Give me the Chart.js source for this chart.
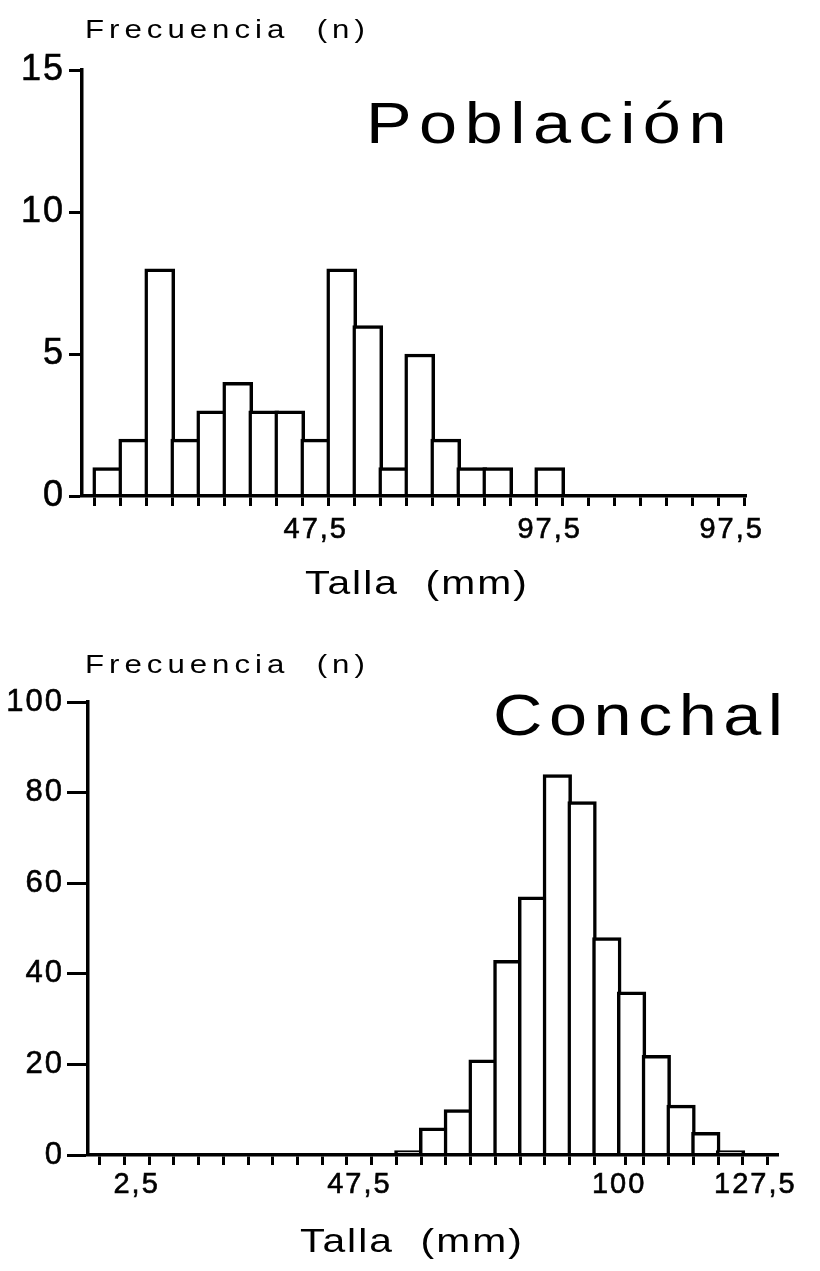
<!DOCTYPE html>
<html>
<head>
<meta charset="utf-8">
<script src="https://cdn.jsdelivr.net/npm/chart.js@4/dist/chart.umd.min.js"></script>
<style>
  html, body { margin: 0; padding: 0; background: #fff; }
  canvas { display: block; }
</style>
</head>
<body>
<canvas id="poblacion" width="820" height="620"></canvas>
<canvas id="conchal" width="820" height="651"></canvas>
<script>
// Población: size class centres (mm) and counts
var poblacionTalla = [7.5, 12.5, 17.5, 22.5, 27.5, 32.5, 37.5, 42.5, 47.5, 52.5, 57.5, 62.5, 67.5, 72.5, 77.5, 82.5, 87.5, 92.5];
var poblacionFrec = [1, 2, 8, 2, 3, 4, 3, 3, 2, 8, 6, 1, 5, 2, 1, 1, 0, 1];
var poblacionTicks = [7.5, 12.5, 17.5, 22.5, 27.5, 32.5, 37.5, 42.5, 47.5, 52.5, 57.5, 62.5, 67.5, 72.5, 77.5, 82.5, 87.5, 92.5, 97.5, 102.5, 107.5, 112.5, 117.5, 122.5, 127.5];
var poblacionTickLabels = ['', '', '', '', '', '', '', '', '47,5', '', '', '', '', '', '', '', '', '97,5', '', '', '', '', '', '', '97,5'];

// Conchal
var conchalTalla = [57.5, 62.5, 67.5, 72.5, 77.5, 82.5, 87.5, 92.5, 97.5, 102.5, 107.5, 112.5, 117.5, 122.5];
var conchalFrec = [1, 6, 10, 21, 43, 57, 84, 78, 48, 36, 22, 11, 5, 1];
var conchalTicks = [-2.5, 2.5, 7.5, 12.5, 17.5, 22.5, 27.5, 32.5, 37.5, 42.5, 47.5, 52.5, 57.5, 62.5, 67.5, 72.5, 77.5, 82.5, 87.5, 92.5, 97.5, 100, 102.5, 107.5, 112.5, 117.5, 122.5, 127.5];
var conchalTickLabels = ['', '2,5', '', '', '', '', '', '', '', '', '47,5', '', '', '', '', '', '', '', '', '', '', '100', '', '', '', '', '', '127,5'];

var FONT = '"Liberation Sans", Arial, Helvetica, sans-serif';

// the original type is wide and spaced out: stretch it a little and space the letters
var spacedText = {
    id: 'spacedText',
    beforeDraw: function (chart, args, opts) {
        chart.ctx.letterSpacing = opts.tickSpacing + 'px';
    },
    afterDraw: function (chart, args, opts) {
        var ctx = chart.ctx;
        var area = chart.chartArea;
        ctx.letterSpacing = '0px';
        opts.items.forEach(function (t) {
            var y = (t.from === 'bottom' ? area.bottom : area.top) + t.dy;
            ctx.save();
            ctx.translate(area.left + t.dx, y);
            ctx.scale(t.stretch, 1);
            ctx.font = t.size + 'px ' + FONT;
            ctx.letterSpacing = (t.spacing / t.stretch) + 'px';
            ctx.fillStyle = '#000';
            ctx.textAlign = 'left';
            ctx.textBaseline = 'alphabetic';
            ctx.fillText(t.text, 0, 0);
            ctx.restore();
        });
    }
};

function pairs(xs, ys) {
    return xs.map(function (x, i) { return { x: x, y: ys[i] }; });
}

function histogram(id, cfg) {
    var ctx = document.getElementById(id).getContext('2d');
    return new Chart(ctx, {
        type: 'bar',
        data: {
            datasets: [{
                data: pairs(cfg.talla, cfg.frec),
                backgroundColor: '#fff',
                borderColor: '#000',
                borderWidth: 3.5,
                borderSkipped: 'start',
                barThickness: cfg.barThickness
            }]
        },
        plugins: [spacedText],
        options: {
            responsive: false,
            animation: false,
            devicePixelRatio: 1,
            layout: { padding: cfg.padding },
            plugins: {
                legend: { display: false },
                tooltip: { enabled: false },
                spacedText: { items: cfg.captions, tickSpacing: 2 }
            },
            scales: {
                x: {
                    type: 'linear',
                    min: cfg.xMin,
                    max: cfg.xMax,
                    afterBuildTicks: function (s) {
                        s.ticks = cfg.ticks.map(function (v) { return { value: v }; });
                    },
                    afterFit: function (s) { s.height = cfg.xHeight; },
                    ticks: {
                        autoSkip: false,
                        maxRotation: 0,
                        padding: cfg.xPad,
                        color: '#000',
                        textStrokeColor: '#000',
                        textStrokeWidth: 0.6,
                        font: { family: FONT, size: 29 },
                        callback: function (v, i) { return cfg.tickLabels[i]; }
                    },
                    grid: {
                        drawOnChartArea: false,
                        tickLength: 10,
                        tickWidth: 3,
                        tickColor: function (c) {
                            return c.tick && cfg.hideTick.indexOf(c.tick.value) >= 0 ? 'rgba(0,0,0,0)' : '#000';
                        }
                    },
                    border: { color: '#000', width: 3.5, z: 1 }
                },
                y: {
                    min: 0,
                    max: cfg.yMax,
                    afterFit: function (s) { s.width = cfg.yWidth; },
                    ticks: {
                        stepSize: cfg.yStep,
                        padding: cfg.yPad,
                        color: '#000',
                        textStrokeColor: '#000',
                        textStrokeWidth: 0.6,
                        font: { family: FONT, size: cfg.yFont }
                    },
                    grid: {
                        drawOnChartArea: false,
                        tickLength: cfg.yTick,
                        tickWidth: 3,
                        tickColor: '#000'
                    },
                    border: { color: '#000', width: 3.5, z: 1 }
                }
            }
        }
    });
}

histogram('poblacion', {
    talla: poblacionTalla,
    frec: poblacionFrec,
    ticks: poblacionTicks,
    tickLabels: poblacionTickLabels,
    hideTick: [],
    xMin: 5.1, xMax: 127.7,
    yMax: 15, yStep: 5, yFont: 36, yTick: 13, yPad: 4,
    yWidth: 82, xHeight: 124, xPad: 7,
    barThickness: 30,
    padding: { top: 70, right: 74, left: 0, bottom: 0 },
    captions: [
        { text: 'Frecuencia  (n)', size: 26, stretch: 1.2, spacing: 5, dx: 3, dy: -32, from: 'top' },
        { text: 'Población', size: 57, stretch: 1.2, spacing: 7.5, dx: 284, dy: 73, from: 'top' },
        { text: 'Talla  (mm)', size: 34, stretch: 1.2, spacing: 2, dx: 223, dy: 98, from: 'bottom' }
    ]
});

histogram('conchal', {
    talla: conchalTalla,
    frec: conchalFrec,
    ticks: conchalTicks,
    tickLabels: conchalTickLabels,
    hideTick: [100],
    xMin: -4.84, xMax: 129.6,
    yMax: 100, yStep: 20, yFont: 31, yTick: 21, yPad: 3,
    yWidth: 88, xHeight: 116, xPad: 3,
    barThickness: 28.6,
    padding: { top: 82, right: 42, left: 0, bottom: 0 },
    captions: [
        { text: 'Frecuencia  (n)', size: 26, stretch: 1.2, spacing: 5, dx: -3, dy: -29, from: 'top' },
        { text: 'Conchal', size: 57, stretch: 1.2, spacing: 6.5, dx: 405, dy: 33, from: 'top' },
        { text: 'Talla  (mm)', size: 34, stretch: 1.2, spacing: 2, dx: 212, dy: 97, from: 'bottom' }
    ]
});
</script>
</body>
</html>
